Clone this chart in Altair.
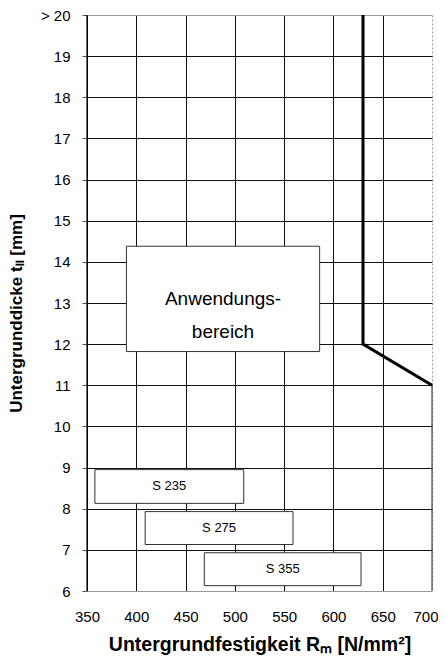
import altair as alt
import pandas as pd

# boundary of the application range
bound_x = [630, 630, 700]
bound_y = [20, 12, 11]

# boxes: label, x1, x2, y1, y2
box_labels = ["S 235", "S 275", "S 355"]
box_x1 = [358, 409, 469]
box_x2 = [509, 559, 628]
box_y1 = [8.13, 7.13, 6.13]
box_y2 = [8.95, 7.93, 6.93]

area_label = ["Anwendungs-", "bereich"]
area_x1, area_x2, area_y1, area_y2 = 390, 586, 11.82, 14.38

x_ticks = [350, 400, 450, 500, 550, 600, 650, 700]
y_ticks = [6, 7, 8, 9, 10, 11, 12, 13, 14, 15, 16, 17, 18, 19, 20]

font = "Liberation Sans"

xs = alt.Scale(domain=[350, 700], nice=False, zero=False)
ys = alt.Scale(domain=[6, 20], nice=False, zero=False)

base_df = pd.DataFrame({"x": [350, 700], "y": [6, 20]})
grid = alt.Chart(base_df).mark_point(opacity=0).encode(
    x=alt.X("x:Q", scale=xs, title="Untergrundfestigkeit Rₘ [N/mm²]",
            axis=alt.Axis(values=x_ticks, grid=True, ticks=False, labelPadding=18,
                          labelFlush=False, labelOverlap=False,
                          labelAlign={"condition": {"test": "datum.value == 700", "value": "right"}, "value": "center"},
                          labelOffset={"condition": {"test": "datum.value == 700", "value": 6}, "value": 0},
                          labelFontSize=15, labelFont=font, titleFont=font,
                          titleFontSize=19.5, titleFontWeight="bold", titleY=44,
                          domain=False,
                          gridColor={"condition": {"test": "datum.value == 700", "value": "#999"}, "value": "#111"},
                          gridDash={"condition": {"test": "datum.value == 700", "value": [2, 2]}, "value": []},
                          labelColor="black", titleColor="black")),
    y=alt.Y("y:Q", scale=ys, title="Untergrunddicke tₗₗ  [mm]",
            axis=alt.Axis(values=y_ticks, grid=True, tickSize=5, tickColor="#555", labelPadding=12,
                          labelFlush=False, labelOverlap=False,
                          labelFontSize=15, labelFont=font, titleFont=font,
                          titleFontSize=17, titleFontWeight="bold", titleX=-62, titleY=298,
                          domain=False,
                          labelExpr="datum.value == 20 ? '>      20' : datum.label",
                          gridColor={"condition": {"test": "datum.value == 20 || datum.value == 6", "value": "#999"}, "value": "#111"},
                          labelColor="black", titleColor="black")),
)

left_edge = alt.Chart(pd.DataFrame({"x": [350], "y": [6], "y2": [20]})).mark_rule(
    color="black", strokeWidth=1.2).encode(x=alt.X("x:Q", scale=xs), y=alt.Y("y:Q", scale=ys), y2="y2:Q")

bdf = pd.DataFrame({"x": bound_x, "y": bound_y, "o": [0, 1, 2]})
boundary = alt.Chart(bdf).mark_line(color="black", strokeWidth=3).encode(
    x=alt.X("x:Q", scale=xs), y=alt.Y("y:Q", scale=ys), order="o:Q")

right_low = alt.Chart(pd.DataFrame({"x": [700], "y": [6], "y2": [11]})).mark_rule(
    color="#222", strokeWidth=1).encode(x=alt.X("x:Q", scale=xs), y=alt.Y("y:Q", scale=ys), y2="y2:Q")

boxdf = pd.DataFrame({"label": box_labels, "x1": box_x1, "x2": box_x2, "y1": box_y1, "y2": box_y2})
boxdf["xc"] = (boxdf.x1 + boxdf.x2) / 2
boxdf["yc"] = (boxdf.y1 + boxdf.y2) / 2
boxes = alt.Chart(boxdf).mark_rect(fill="white", stroke="#333", strokeWidth=1).encode(
    x=alt.X("x1:Q", scale=xs), x2="x2:Q", y=alt.Y("y1:Q", scale=ys), y2="y2:Q")
box_text = alt.Chart(boxdf).mark_text(font=font, fontSize=13, color="black").encode(
    x=alt.X("xc:Q", scale=xs), y=alt.Y("yc:Q", scale=ys), text="label:N")

adf = pd.DataFrame({"x1": [area_x1], "x2": [area_x2], "y1": [area_y1], "y2": [area_y2],
                    "xc": [(area_x1 + area_x2) / 2], "yc": [(area_y1 + area_y2) / 2],
                    "t": [area_label]})
area_box = alt.Chart(adf).mark_rect(fill="white", stroke="#333", strokeWidth=1).encode(
    x=alt.X("x1:Q", scale=xs), x2="x2:Q", y=alt.Y("y1:Q", scale=ys), y2="y2:Q")
area_text = alt.Chart(adf).mark_text(font=font, fontSize=19, color="black", lineHeight=33).encode(
    x=alt.X("xc:Q", scale=xs), y=alt.Y("yc:Q", scale=ys), text="t")

chart = alt.layer(grid, left_edge, right_low, boundary, boxes, box_text, area_box, area_text).properties(
    width=345, height=576,
    autosize=alt.AutoSizeParams(type="none"),
    padding={"left": 79, "top": 7, "right": 6, "bottom": 72},
).configure_view(stroke=None).configure_axis(gridWidth=1)

chart.save("out.html", embed_options={"renderer": "svg", "actions": False})
